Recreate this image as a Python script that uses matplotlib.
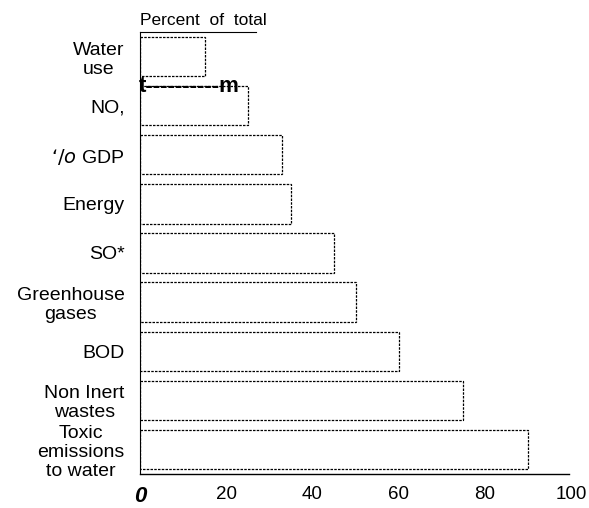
import numpy as np
import matplotlib
matplotlib.use("Agg")
import matplotlib.pyplot as plt

plt.rcParams["font.family"] = ["Liberation Sans", "DejaVu Sans"]

# categorias e valores (percent of total)
categorias = ["Water\nuse", "NO,", "GDP", "Energy", "SO*",
              "Greenhouse\ngases", "BOD", "Non Inert\nwastes",
              "Toxic\nemissions\nto water"]
valores = [15, 25, 33, 35, 45, 50, 60, 75, 90]
ticks_x = [0, 20, 40, 60, 80, 100]

fig = plt.figure(figsize=(5.89, 5.08), dpi=100)
ax = fig.add_axes([0.2377, 0.067, 0.732, 0.87])

pos = np.arange(len(categorias))
ax.barh(pos, valores, height=0.8, color="white", edgecolor="black",
        linewidth=0.9, linestyle=(0, (2, 1)))

ax.set_ylim(len(categorias) - 0.5, -0.5)
ax.set_xlim(0, 100)

ax.set_yticks(pos)
rotulos = list(categorias)
rotulos[2] = "$\\it{‘/o}$ GDP"
ax.set_yticklabels(rotulos, fontsize=14, ha="right", multialignment="center",
                   linespacing=1.15)
ax.tick_params(axis="y", length=0, pad=11)

ax.set_xticks(ticks_x)
ax.set_xticklabels([str(t) for t in ticks_x], fontsize=13.5)
ax.tick_params(axis="x", length=0, pad=9)
zero = ax.get_xticklabels()[0]
zero.set_fontstyle("italic")
zero.set_fontweight("bold")
zero.set_fontsize(16)

for lado in ["top", "right"]:
    ax.spines[lado].set_visible(False)
ax.spines["bottom"].set_bounds(0, 99.5)
ax.spines["left"].set_linewidth(0.8)
ax.spines["bottom"].set_linewidth(1.0)

# linha curta em cima, sob o titulo
ax.axhline(-0.5, xmin=0, xmax=0.27, color="black", lw=0.8, clip_on=False)

ax.text(0.0, 1.008, "Percent  of  total", transform=ax.transAxes,
        fontsize=12.5, ha="left", va="bottom")

# artefato do scan
ax.text(-0.002, 0.876, "t----------m", transform=ax.transAxes,
        fontsize=16, fontweight="bold", ha="left", va="center",
        fontstretch="condensed")

fig.savefig("out.png", dpi=100)
